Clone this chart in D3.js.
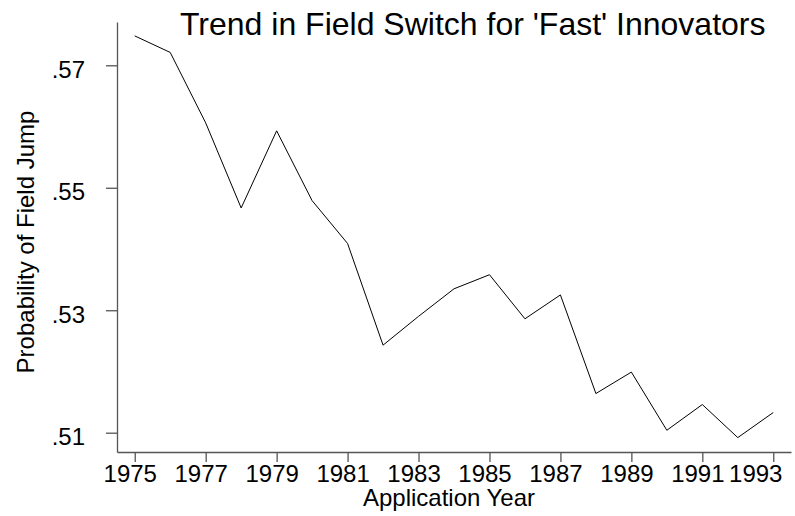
<!DOCTYPE html>
<html>
<head>
<meta charset="utf-8">
<script src="https://cdn.jsdelivr.net/npm/d3@7"></script>
<style>
  body { margin: 0; background: #fff; }
  svg { display: block; }
  text { font-family: "Liberation Sans", Arial, sans-serif; }
  .axis path, .axis line { stroke: #555; stroke-width: 1.3; }
  .axis text { font-size: 24px; fill: #000; }
  .line { fill: none; stroke: #000; stroke-width: 1; }
</style>
</head>
<body>
<svg width="795" height="516"></svg>
<script>
// application years and estimated probability of field jump
var years = [1975, 1976, 1977, 1978, 1979, 1980, 1981, 1982, 1983, 1984,
             1985, 1986, 1987, 1988, 1989, 1990, 1991, 1992, 1993];
var probs = [.5748, .5721, .5606, .5467, .5593, .5479, .5409, .5243, .5290, .5335,
             .5358, .5286, .5325, .5164, .5199, .5104, .5146, .5092, .5133];
var xTicks = [1975, 1977, 1979, 1981, 1983, 1985, 1987, 1989, 1991, 1993];
var yTicks = [.51, .53, .55, .57];

var svg = d3.select("svg");
var margin = { top: 22, right: 4, bottom: 64, left: 117 };
var width = 795 - margin.left - margin.right;
var height = 516 - margin.top - margin.bottom;

var g = svg.append("g")
  .attr("transform", "translate(" + margin.left + "," + margin.top + ")");

// Scales
var xScale = d3.scaleLinear()
  .domain([1974.5, 1993.5])
  .range([0, width]);

var yScale = d3.scaleLinear()
  .domain([.50685, .57707])
  .range([height, 0]);

// x axis
var xAxis = g.append("g")
  .attr("class", "x axis")
  .attr("font-family", null)
  .attr("transform", "translate(0," + height + ")")
  .call(d3.axisBottom(xScale).tickValues(xTicks).tickFormat(d3.format("d")).tickSize(10).tickSizeOuter(0));
// labels sit a little left of their ticks; the last one is pulled in from the edge
xAxis.selectAll("text")
  .attr("y", 13).attr("dy", "0.71em")
  .attr("x", function (d) { return d === 1993 ? -18 : -5; });

// y axis
var yAxis = g.append("g")
  .attr("class", "y axis")
  .attr("font-family", null)
  .call(d3.axisLeft(yScale).tickValues(yTicks).tickFormat(function (d) { return d3.format(".2f")(d).replace(/^0/, ""); }).tickSize(11).tickSizeOuter(0));
yAxis.selectAll("text").attr("x", -32).attr("dy", "0.5em");

// line
var line = d3.line()
  .x(function (d, i) { return xScale(years[i]); })
  .y(function (d) { return yScale(d); });

g.append("path")
  .datum(probs)
  .attr("class", "line")
  .attr("d", line);

// titles
svg.append("text")
  .attr("x", 180)
  .attr("y", 34.5)
  .attr("font-size", 32)
  .text("Trend in Field Switch for 'Fast' Innovators");

svg.append("text")
  .attr("x", 449)
  .attr("y", 506)
  .attr("text-anchor", "middle")
  .attr("font-size", 24)
  .text("Application Year");

svg.append("text")
  .attr("transform", "translate(34,242) rotate(-90)")
  .attr("text-anchor", "middle")
  .attr("font-size", 24)
  .text("Probability of Field Jump");
</script>
</body>
</html>
